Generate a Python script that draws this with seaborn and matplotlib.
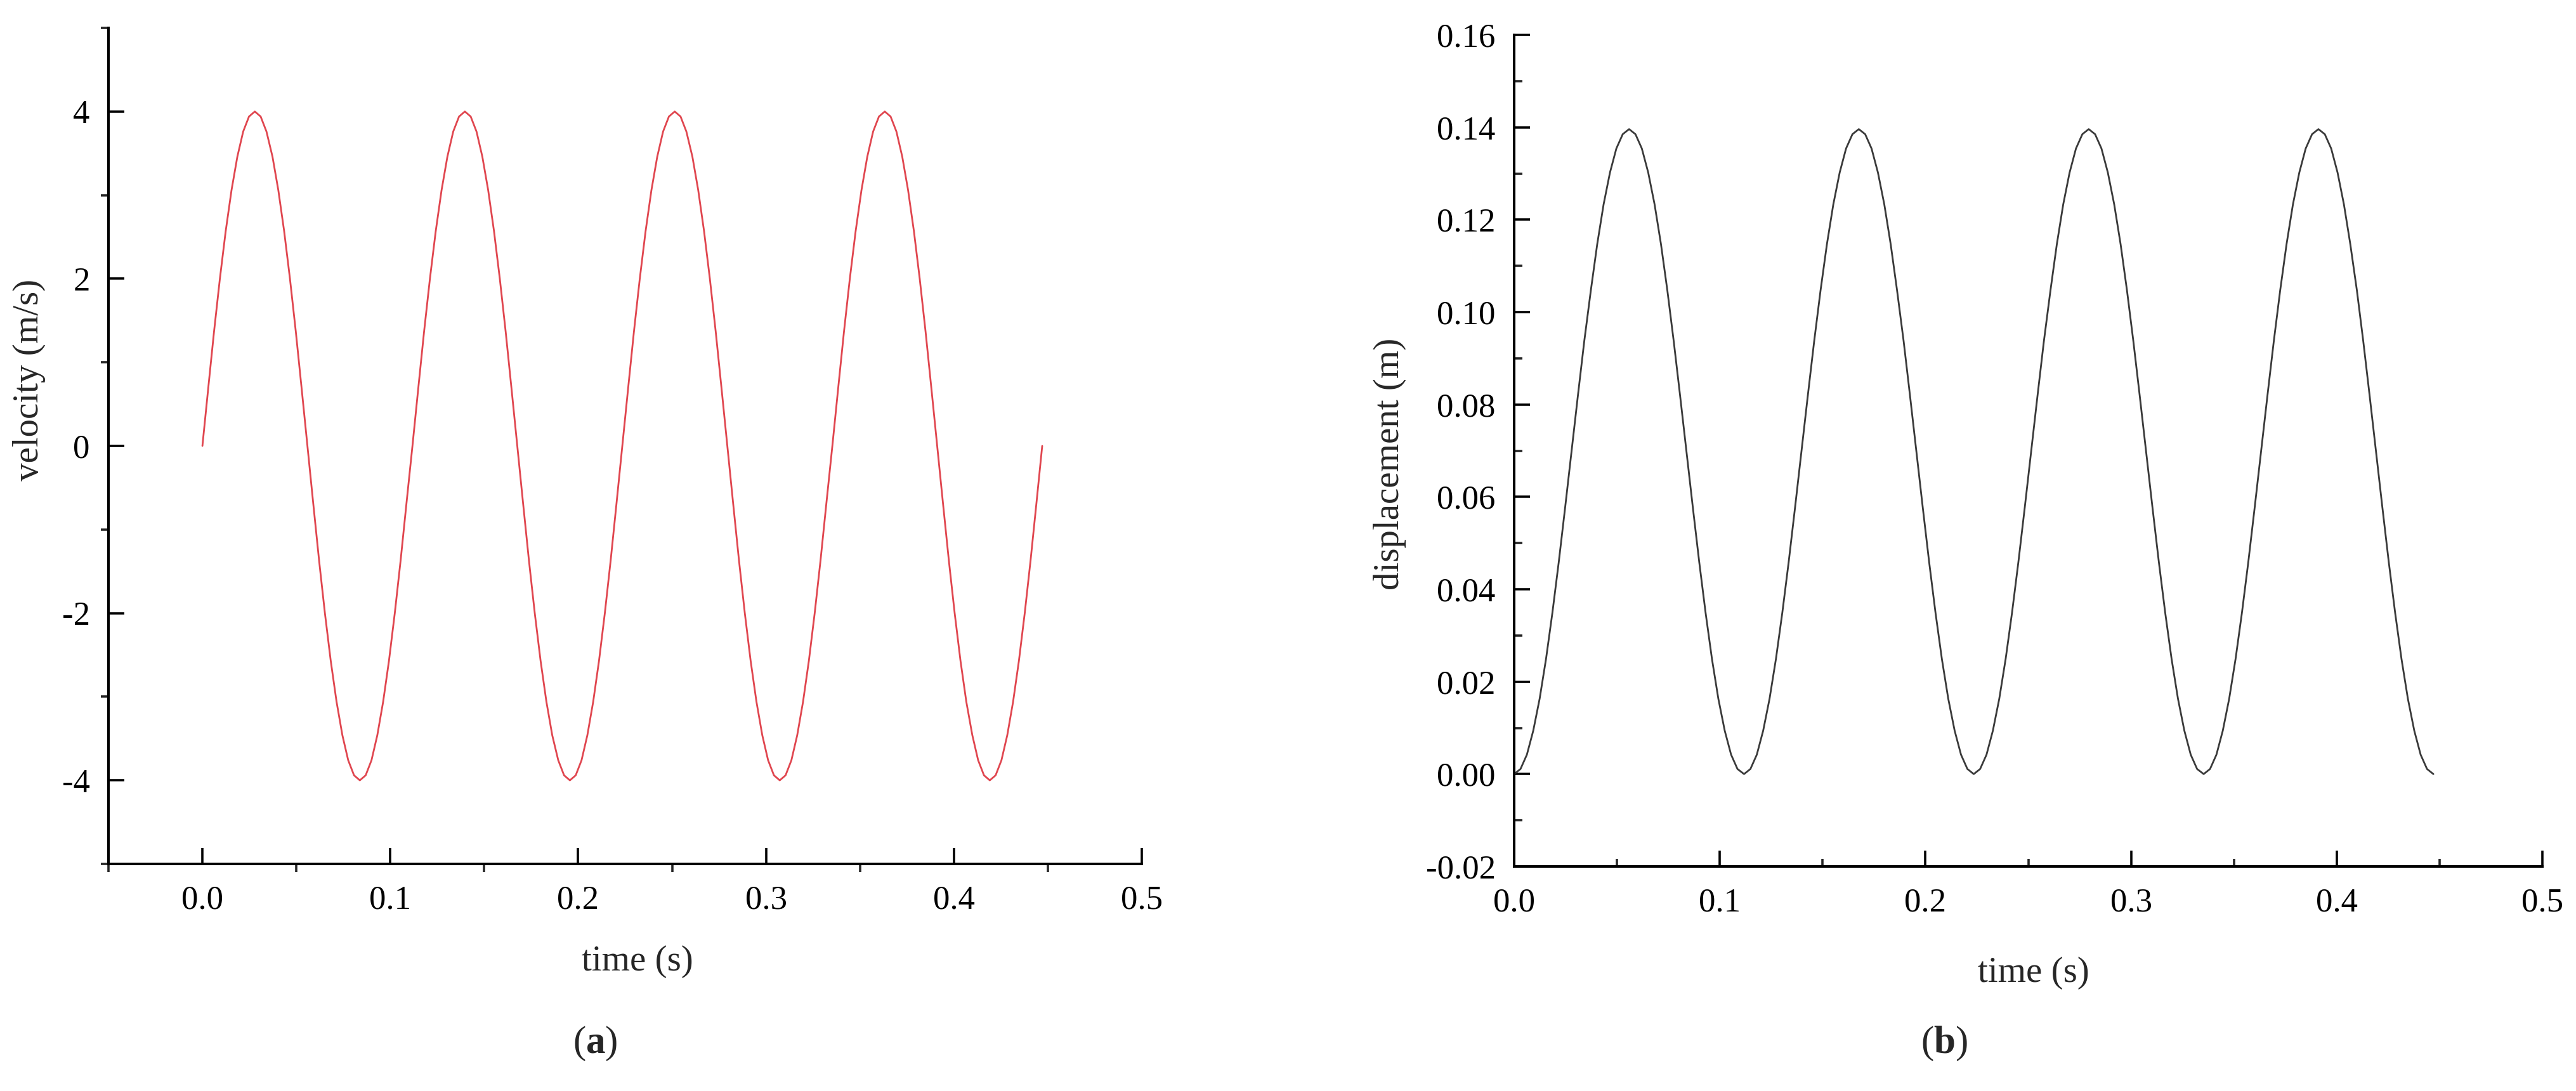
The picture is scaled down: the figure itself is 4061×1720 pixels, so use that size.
import matplotlib
matplotlib.use("Agg")
import matplotlib.pyplot as plt
from matplotlib.ticker import MultipleLocator, FormatStrFormatter
import seaborn as sns

# === values ===
time_s = [
    0.0000, 0.0031, 0.0062, 0.0093, 0.0124, 0.0155, 0.0186, 0.0217, 0.0248,
    0.0279, 0.0310, 0.0341, 0.0373, 0.0404, 0.0435, 0.0466, 0.0497, 0.0528,
    0.0559, 0.0590, 0.0621, 0.0652, 0.0683, 0.0714, 0.0745, 0.0776, 0.0807,
    0.0838, 0.0869, 0.0900, 0.0931, 0.0962, 0.0993, 0.1024, 0.1055, 0.1086,
    0.1118, 0.1149, 0.1180, 0.1211, 0.1242, 0.1273, 0.1304, 0.1335, 0.1366,
    0.1397, 0.1428, 0.1459, 0.1490, 0.1521, 0.1552, 0.1583, 0.1614, 0.1645,
    0.1676, 0.1707, 0.1738, 0.1769, 0.1800, 0.1831, 0.1862, 0.1894, 0.1925,
    0.1956, 0.1987, 0.2018, 0.2049, 0.2080, 0.2111, 0.2142, 0.2173, 0.2204,
    0.2235, 0.2266, 0.2297, 0.2328, 0.2359, 0.2390, 0.2421, 0.2452, 0.2483,
    0.2514, 0.2545, 0.2576, 0.2608, 0.2639, 0.2670, 0.2701, 0.2732, 0.2763,
    0.2794, 0.2825, 0.2856, 0.2887, 0.2918, 0.2949, 0.2980, 0.3011, 0.3042,
    0.3073, 0.3104, 0.3135, 0.3166, 0.3197, 0.3228, 0.3259, 0.3290, 0.3321,
    0.3353, 0.3384, 0.3415, 0.3446, 0.3477, 0.3508, 0.3539, 0.3570, 0.3601,
    0.3632, 0.3663, 0.3694, 0.3725, 0.3756, 0.3787, 0.3818, 0.3849, 0.3880,
    0.3911, 0.3942, 0.3973, 0.4004, 0.4035, 0.4066, 0.4098, 0.4129, 0.4160,
    0.4191, 0.4222, 0.4253, 0.4284, 0.4315, 0.4346, 0.4377, 0.4408, 0.4439,
    0.4470,
]

velocity = [
    0.00, 0.69, 1.37, 2.00, 2.57, 3.06, 3.46, 3.76, 3.94,
    4.00, 3.94, 3.76, 3.46, 3.06, 2.57, 2.00, 1.37, 0.69,
    0.00, -0.69, -1.37, -2.00, -2.57, -3.06, -3.46, -3.76, -3.94,
    -4.00, -3.94, -3.76, -3.46, -3.06, -2.57, -2.00, -1.37, -0.69,
    0.00, 0.69, 1.37, 2.00, 2.57, 3.06, 3.46, 3.76, 3.94,
    4.00, 3.94, 3.76, 3.46, 3.06, 2.57, 2.00, 1.37, 0.69,
    0.00, -0.69, -1.37, -2.00, -2.57, -3.06, -3.46, -3.76, -3.94,
    -4.00, -3.94, -3.76, -3.46, -3.06, -2.57, -2.00, -1.37, -0.69,
    0.00, 0.69, 1.37, 2.00, 2.57, 3.06, 3.46, 3.76, 3.94,
    4.00, 3.94, 3.76, 3.46, 3.06, 2.57, 2.00, 1.37, 0.69,
    0.00, -0.69, -1.37, -2.00, -2.57, -3.06, -3.46, -3.76, -3.94,
    -4.00, -3.94, -3.76, -3.46, -3.06, -2.57, -2.00, -1.37, -0.69,
    0.00, 0.69, 1.37, 2.00, 2.57, 3.06, 3.46, 3.76, 3.94,
    4.00, 3.94, 3.76, 3.46, 3.06, 2.57, 2.00, 1.37, 0.69,
    0.00, -0.69, -1.37, -2.00, -2.57, -3.06, -3.46, -3.76, -3.94,
    -4.00, -3.94, -3.76, -3.46, -3.06, -2.57, -2.00, -1.37, -0.69,
    0.00,
]

displacement = [
    0.0000, 0.0011, 0.0042, 0.0094, 0.0163, 0.0249, 0.0349, 0.0459, 0.0577,
    0.0698, 0.0819, 0.0937, 0.1047, 0.1147, 0.1233, 0.1302, 0.1354, 0.1385,
    0.1396, 0.1385, 0.1354, 0.1302, 0.1233, 0.1147, 0.1047, 0.0937, 0.0819,
    0.0698, 0.0577, 0.0459, 0.0349, 0.0249, 0.0163, 0.0094, 0.0042, 0.0011,
    0.0000, 0.0011, 0.0042, 0.0094, 0.0163, 0.0249, 0.0349, 0.0459, 0.0577,
    0.0698, 0.0819, 0.0937, 0.1047, 0.1147, 0.1233, 0.1302, 0.1354, 0.1385,
    0.1396, 0.1385, 0.1354, 0.1302, 0.1233, 0.1147, 0.1047, 0.0937, 0.0819,
    0.0698, 0.0577, 0.0459, 0.0349, 0.0249, 0.0163, 0.0094, 0.0042, 0.0011,
    0.0000, 0.0011, 0.0042, 0.0094, 0.0163, 0.0249, 0.0349, 0.0459, 0.0577,
    0.0698, 0.0819, 0.0937, 0.1047, 0.1147, 0.1233, 0.1302, 0.1354, 0.1385,
    0.1396, 0.1385, 0.1354, 0.1302, 0.1233, 0.1147, 0.1047, 0.0937, 0.0819,
    0.0698, 0.0577, 0.0459, 0.0349, 0.0249, 0.0163, 0.0094, 0.0042, 0.0011,
    0.0000, 0.0011, 0.0042, 0.0094, 0.0163, 0.0249, 0.0349, 0.0459, 0.0577,
    0.0698, 0.0819, 0.0937, 0.1047, 0.1147, 0.1233, 0.1302, 0.1354, 0.1385,
    0.1396, 0.1385, 0.1354, 0.1302, 0.1233, 0.1147, 0.1047, 0.0937, 0.0819,
    0.0698, 0.0577, 0.0459, 0.0349, 0.0249, 0.0163, 0.0094, 0.0042, 0.0011,
    0.0000,
]

# === style ===
sns.set_style("ticks")
plt.rcParams["font.family"] = ["Liberation Serif", "DejaVu Serif"]
plt.rcParams["mathtext.fontset"] = "custom"
plt.rcParams["mathtext.rm"] = "Liberation Serif"
plt.rcParams["mathtext.bf"] = "Liberation Serif:bold"
plt.rcParams["axes.unicode_minus"] = False

TICK_FS = 38
LABEL_FS = 41

fig = plt.figure(figsize=(40.62, 17.2), dpi=100)
W, H = 4062, 1720


def add_axes_px(x0, y0, x1, y1):
    return fig.add_axes([x0 / W, 1 - y1 / H, (x1 - x0) / W, (y1 - y0) / H])


def style_axes(ax, minor_dir):
    for side in ["top", "right"]:
        ax.spines[side].set_visible(False)
    for side in ["left", "bottom"]:
        ax.spines[side].set_linewidth(2.9)
        ax.spines[side].set_color("black")
    ax.tick_params(which="major", direction="in", length=18, width=2.6,
                   labelsize=TICK_FS, colors="black")
    ax.tick_params(axis="x", which="major", pad=24)
    ax.tick_params(axis="y", which="major", pad=21)
    ax.tick_params(which="minor", direction=minor_dir, length=9, width=2.6)
    ax.set_facecolor("white")


# === (a) velocity ===
ax1 = add_axes_px(171, 44, 1800, 1362)
sns.lineplot(x=time_s, y=velocity, ax=ax1, color="#e0464f", linewidth=2.0,
             sort=False, estimator=None)
ax1.set_xlim(-0.05, 0.5)
ax1.set_ylim(-5, 5)
ax1.xaxis.set_major_locator(MultipleLocator(0.1))
ax1.xaxis.set_minor_locator(MultipleLocator(0.05))
ax1.xaxis.set_major_formatter(FormatStrFormatter("%.1f"))
ax1.yaxis.set_major_locator(MultipleLocator(2))
ax1.yaxis.set_minor_locator(MultipleLocator(1))
style_axes(ax1, "out")
ax1.set_xticks([0.0, 0.1, 0.2, 0.3, 0.4, 0.5])
ax1.set_yticks([-4, -2, 0, 2, 4])
ax1.set_xlabel("time (s)", fontsize=LABEL_FS)
ax1.set_ylabel("velocity (m/s)", fontsize=LABEL_FS)
ax1.xaxis.set_label_coords(0.512, -0.097)
ax1.yaxis.set_label_coords(-0.061, 0.579)

# === (b) displacement ===
ax2 = add_axes_px(2387, 55, 4008, 1366)
sns.lineplot(x=time_s, y=displacement, ax=ax2, color="#3a3a3a", linewidth=2.0,
             sort=False, estimator=None)
ax2.set_xlim(0.0, 0.5)
ax2.set_ylim(-0.02, 0.16)
ax2.xaxis.set_major_locator(MultipleLocator(0.1))
ax2.xaxis.set_minor_locator(MultipleLocator(0.05))
ax2.xaxis.set_major_formatter(FormatStrFormatter("%.1f"))
ax2.yaxis.set_major_locator(MultipleLocator(0.02))
ax2.yaxis.set_minor_locator(MultipleLocator(0.01))
ax2.yaxis.set_major_formatter(FormatStrFormatter("%.2f"))
style_axes(ax2, "in")
ax2.set_xlabel("time (s)", fontsize=LABEL_FS)
ax2.set_ylabel("displacement (m)", fontsize=LABEL_FS)
ax2.xaxis.set_label_coords(0.505, -0.108)
ax2.yaxis.set_label_coords(-0.105, 0.484)

# panel letters
fig.text(938 / W, 1 - 1645 / H, r"($\mathbf{a}$)", fontsize=44,
         ha="center", va="center")
fig.text(3065 / W, 1 - 1645 / H, r"($\mathbf{b}$)", fontsize=44,
         ha="center", va="center")

fig.savefig("out.png", dpi=100, facecolor="white")
